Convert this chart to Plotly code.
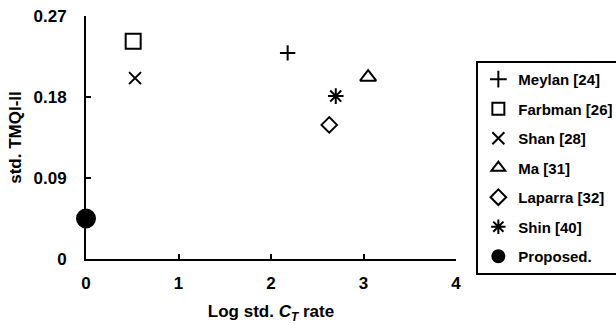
import plotly.graph_objects as go

names = ["Meylan [24]", "Farbman [26]", "Shan [28]", "Ma [31]", "Laparra [32]", "Shin [40]", "Proposed."]
x_vals = [2.18, 0.51, 0.53, 3.05, 2.63, 2.70, 0.0]
y_vals = [0.229, 0.242, 0.201, 0.202, 0.149, 0.181, 0.045]
symbols = ["cross-thin-open", "square-open", "x-thin-open", "triangle-up-open", "diamond-open", "asterisk-open", "circle"]
sizes = [11, 15, 12, 14, 12, 13, 18]

x_ticks = [0, 1, 2, 3, 4]
y_ticks = [0, 0.09, 0.18, 0.27]
y_tick_text = ["0", "0.09", "0.18", "0.27"]

FONT = "Liberation Sans, Arial, sans-serif"

fig = go.Figure()
for i, n in enumerate(names):
    fig.add_trace(go.Scatter(
        x=[x_vals[i]], y=[y_vals[i]], mode="markers", name=n,
        legendgroup=n,
        cliponaxis=False,
        marker=dict(symbol=symbols[i], size=sizes[i], color="black",
                    line=dict(color="black", width=2)),
    ))

fig.update_layout(
    width=616, height=324,
    margin=dict(l=86, r=160, t=16, b=65, autoexpand=False),
    plot_bgcolor="white", paper_bgcolor="white",
    font=dict(family=FONT, size=16, color="black", weight="bold"),
    showlegend=True,
    legend=dict(x=1.055, y=0.815, xanchor="left", yanchor="top",
                bordercolor="black", borderwidth=2,
                font=dict(family=FONT, size=15, color="black", weight="bold"),
                tracegroupgap=7, itemsizing="constant",
                itemwidth=30),
)
fig.update_xaxes(
    range=[0, 4], tickvals=x_ticks, ticktext=[str(v) for v in x_ticks],
    showgrid=False, zeroline=False, showline=True, linecolor="black", linewidth=2,
    ticks="inside", ticklen=5, tickwidth=2, tickcolor="black",
    ticklabelstandoff=8, tickfont=dict(size=17),
    title=dict(text="Log std. <i>C</i><sub><i>T</i></sub> rate", standoff=14,
               font=dict(family=FONT, size=17, weight="bold")),
    automargin=False,
)
fig.update_yaxes(
    range=[0, 0.27], tickvals=y_ticks, ticktext=y_tick_text,
    showgrid=False, zeroline=False, showline=True, linecolor="black", linewidth=2,
    ticks="inside", ticklen=5, tickwidth=2, tickcolor="black",
    ticklabelstandoff=14, tickfont=dict(size=17),
    title=dict(text="std. TMQI-II", standoff=8,
               font=dict(family=FONT, size=17, weight="bold")),
    automargin=False,
)

fig.write_html("out.html")
